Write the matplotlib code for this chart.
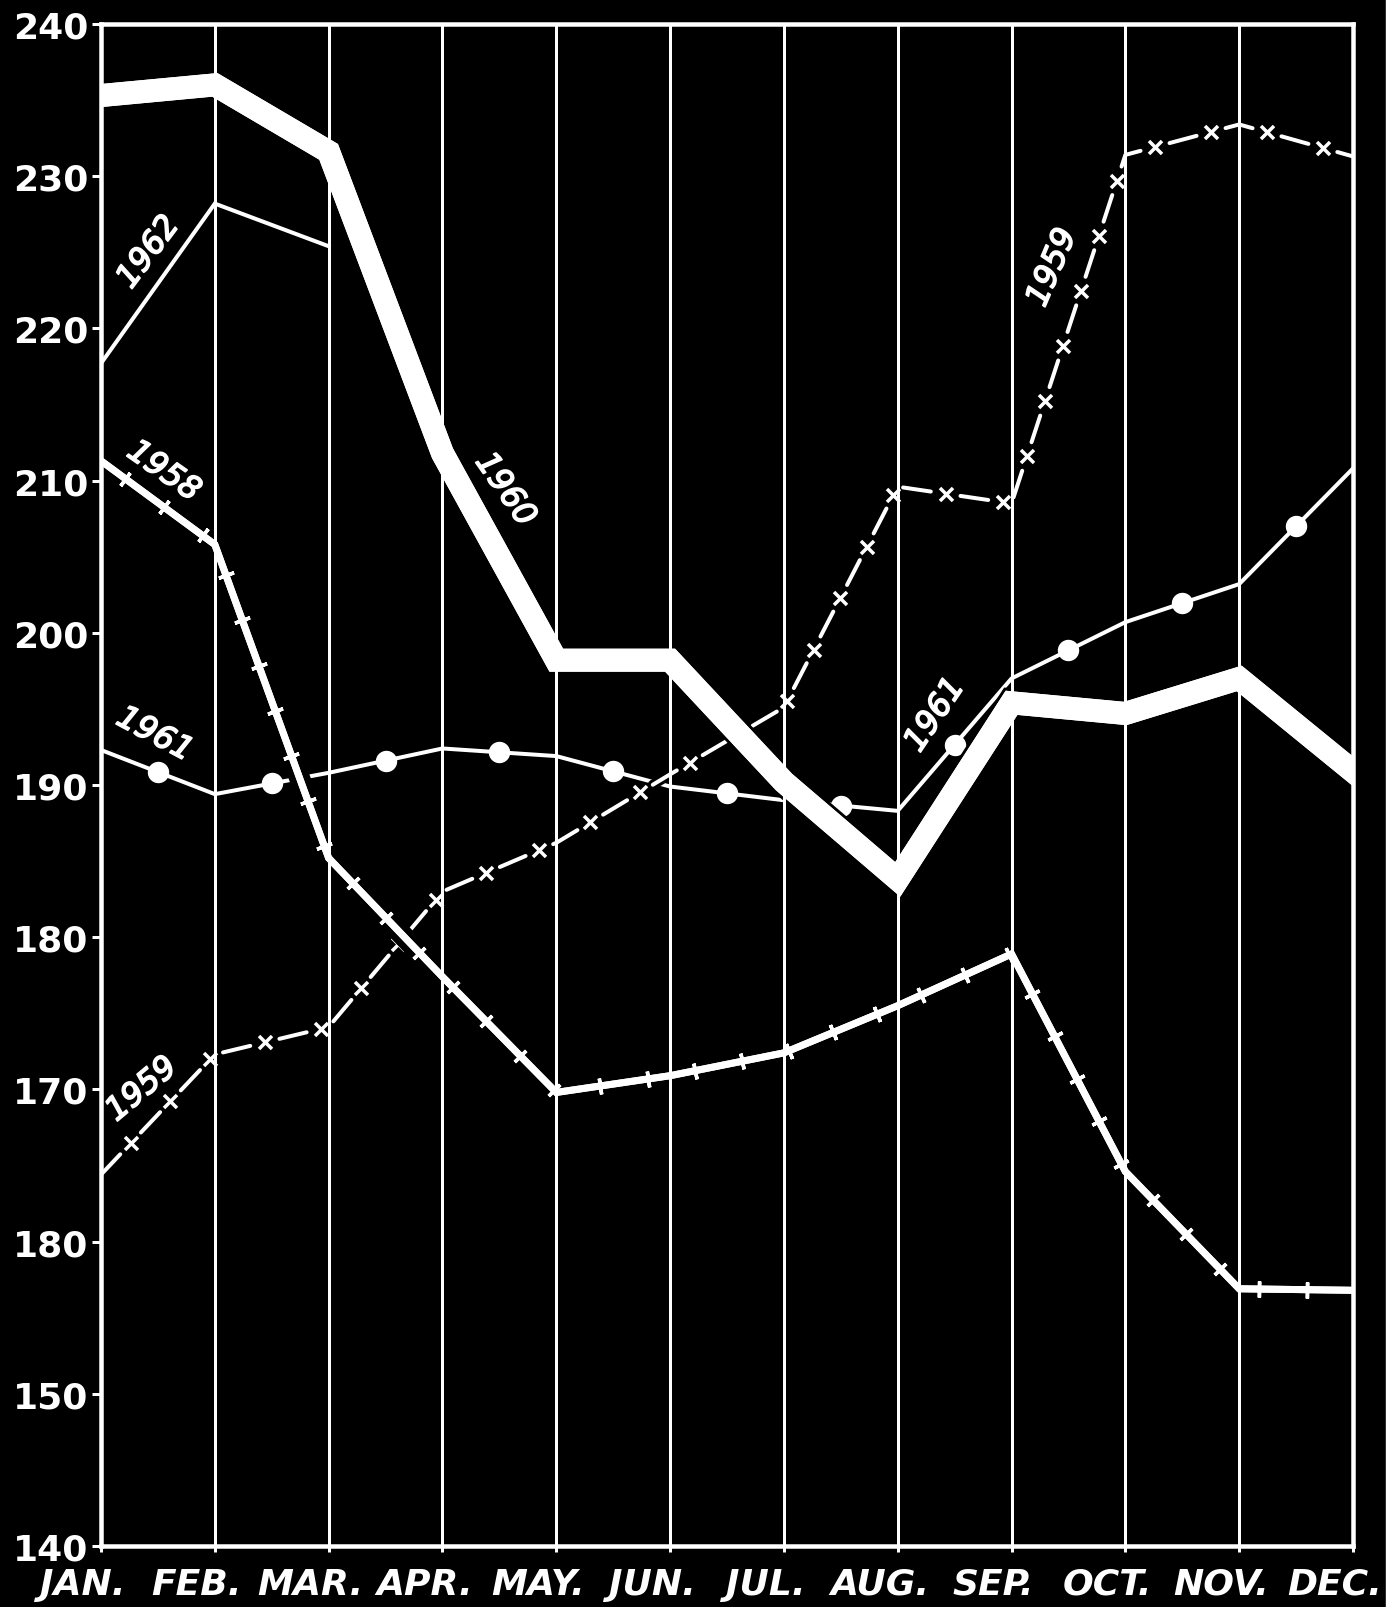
import numpy as np
import matplotlib
matplotlib.use("Agg")
import matplotlib.pyplot as plt
import matplotlib.patheffects as pe
from matplotlib.patches import Rectangle
from matplotlib.transforms import ScaledTranslation

# ---- data -------------------------------------------------------------
months = ["JAN.", "FEB.", "MAR.", "APR.", "MAY.", "JUN.",
          "JUL.", "AUG.", "SEP.", "OCT.", "NOV.", "DEC."]
y_ticks = [140, 150, 160, 170, 180, 190, 200, 210, 220, 230, 240]
y_tick_labels = ["140", "150", "180", "170", "180", "190",
                 "200", "210", "220", "230", "240"]

s1958 = [211.3, 205.8, 185.2, 177.4, 169.8, 170.9, 172.4, 175.5, 178.9, 164.6, 156.9, 156.8]
s1959 = [164.4, 172.3, 174.1, 183.0, 186.2, 190.7, 195.1, 209.6, 208.5, 231.4, 233.4, 231.3]
s1960 = [235.3, 236.0, 231.6, 211.8, 198.2, 198.2, 190.2, 183.8, 195.4, 194.7, 197.0, 190.9]
s1961 = [192.3, 189.4, 190.8, 192.4, 191.9, 189.9, 189.0, 188.3, 197.0, 200.7, 203.2, 210.8]
s1962 = [217.7, 228.2, 225.4]

# year labels: (text, x, y, rotation)
year_labels = [
    ("1962", 0.42, 225.0, 53),
    ("1958", 0.55, 210.6, -35),
    ("1960", 3.55, 209.4, -55),
    ("1961", 0.47, 193.3, -28),
    ("1961", 7.33, 194.6, 56),
    ("1959", 0.36, 170.0, 40),
    ("1959", 8.36, 224.0, 67),
]

# ---- figure -----------------------------------------------------------
W, H, DPI = 1399, 1608, 100
plt.rcParams["font.family"] = ["DejaVu Sans"]
plt.rcParams["lines.scale_dashes"] = False


def pt(px):
    return px * 72.0 / DPI


fig = plt.figure(figsize=(W / DPI, H / DPI), dpi=DPI, facecolor="black")
ax = fig.add_axes([101 / W, 1 - 1547 / H, (1353 - 101) / W, (1547 - 25) / H],
                  facecolor="black")
x = np.arange(len(months))
ax.set_xlim(0, 11)
ax.set_ylim(140, 240)


def along_path(xs, ys, spacing_px, start_px):
    """Points spaced evenly (in screen pixels) along a polyline, with the
    local direction angle in degrees."""
    p = ax.transData.transform(np.column_stack([xs, ys]))
    seg = np.diff(p, axis=0)
    seglen = np.hypot(seg[:, 0], seg[:, 1])
    cum = np.concatenate([[0.0], np.cumsum(seglen)])
    s = np.arange(start_px, cum[-1] - 4, spacing_px)
    px = np.interp(s, cum, p[:, 0])
    py = np.interp(s, cum, p[:, 1])
    idx = np.clip(np.searchsorted(cum, s, side="right") - 1, 0, len(seg) - 1)
    ang = np.degrees(np.arctan2(seg[idx, 1], seg[idx, 0]))
    d = ax.transData.inverted().transform(np.column_stack([px, py]))
    return d[:, 0], d[:, 1], ang


# 1962: plain thin line
ax.plot(x[:len(s1962)], s1962, color="white", lw=pt(4), zorder=3,
        solid_joinstyle="miter")

# 1961: thin line with dots between the months
ax.plot(x, s1961, color="white", lw=pt(4), zorder=3)
mx = (x[:-1] + x[1:]) / 2.0
my = (np.array(s1961[:-1]) + np.array(s1961[1:])) / 2.0
ax.plot(mx, my, "o", color="white", ms=pt(20), mec="white", zorder=3)

# 1959: dashes with crosses in the gaps
dash_on, dash_off = 28, 30
ax.plot(x, s1959, color="white", lw=pt(4), zorder=3.5,
        linestyle=(0, (pt(dash_on), pt(dash_off))), dash_capstyle="round",
        path_effects=[pe.withStroke(linewidth=pt(10), foreground="black")])
cx, cy, _ = along_path(x, s1959, dash_on + dash_off, dash_on + dash_off / 2.0)
ax.plot(cx, cy, "x", color="white", ms=pt(13), mew=pt(3.5), zorder=3.6)

# 1958: heavier line with short cross-bars
ax.plot(x, s1958, color="white", lw=pt(7), zorder=4, solid_joinstyle="miter",
        solid_capstyle="projecting",
        path_effects=[pe.withStroke(linewidth=pt(21), foreground="black"),
                      pe.Normal()])
tx, ty, ta = along_path(x, s1958, 48, 30)
for xi, yi, ai in zip(tx, ty, ta):
    ax.plot([xi], [yi], marker=(2, 2, ai), color="white", ms=pt(16),
            mew=pt(3.5), zorder=4.1)

# 1960: very heavy line
ax.plot(x, s1960, color="white", lw=pt(23), zorder=5, solid_joinstyle="miter",
        solid_capstyle="projecting",
        path_effects=[pe.withStroke(linewidth=pt(29), foreground="black"),
                      pe.Normal()])

# month rules
ax.vlines(x[1:-1], 140, 240, color="white", lw=pt(3), zorder=8)

for txt, tx_, ty_, rot in year_labels:
    ax.text(tx_, ty_, txt, color="white", fontsize=23, fontweight="normal",
            style="italic", rotation=rot, rotation_mode="anchor",
            ha="center", va="center", zorder=9,
            path_effects=[pe.withStroke(linewidth=1.2, foreground="white")])

# axes styling
for sp in ax.spines.values():
    sp.set_color("white")
    sp.set_linewidth(pt(4.5))
    sp.set_zorder(10)

ax.set_yticks(y_ticks, y_tick_labels)
ax.set_xticks(x, months)
ax.tick_params(axis="y", colors="white", length=pt(9), width=pt(3),
               pad=pt(4), labelsize=26)
ax.tick_params(axis="x", colors="white", length=pt(6), width=pt(3),
               pad=pt(15), labelsize=26)
for lbl in ax.get_yticklabels():
    lbl.set_fontweight("bold")
for lbl in ax.get_xticklabels():
    lbl.set_fontweight("bold")
    lbl.set_style("italic")
    lbl.set_transform(lbl.get_transform()
                      + ScaledTranslation(-18 / DPI, 0, fig.dpi_scale_trans))

# light strip along the right edge of the sheet
fig.add_artist(Rectangle((1386 / W, 0), 1 - 1386 / W, 1,
                         transform=fig.transFigure, color="white", zorder=0))

fig.savefig("out.png", dpi=DPI, facecolor="black")
